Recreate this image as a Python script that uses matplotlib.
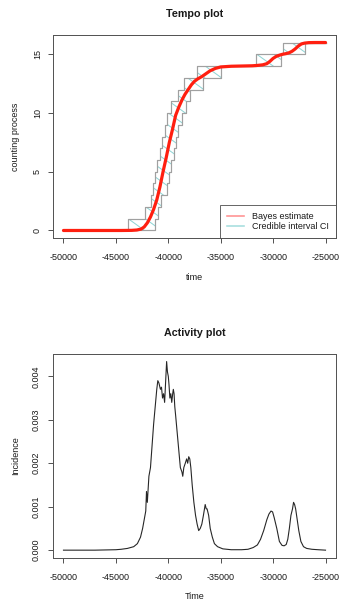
import numpy as np
import matplotlib
matplotlib.use("Agg")
import matplotlib.pyplot as plt
from matplotlib.lines import Line2D
from matplotlib.patches import Polygon
from matplotlib.collections import LineCollection

DPI = 78.0
def pt(px):
    return px * 72.0 / DPI

plt.rcParams['font.family'] = ['Liberation Sans', 'DejaVu Sans']

# ---------------- data ----------------
# Tempo plot: credible interval jump times (count k -> k+1)
ci_upper_jumps = [-43800, -42200, -41650, -41450, -41250, -41050, -40800, -40570,
                  -40350, -40150, -39700, -39100, -38500, -37250, -31600, -29100]
ci_lower_jumps = [-41300, -40950, -40650, -40100, -39950, -39700, -39500, -39300,
                  -39100, -38650, -38350, -37900, -36700, -34950, -29200, -27000]

bayes_t = [-50000, -44500, -43500, -43000, -42600, -42300, -42000, -41700, -41400,
           -41100, -40800, -40500, -40200, -39900, -39600, -39300, -39000, -38700,
           -38400, -38100, -37800, -37500, -37200, -36800, -36400, -36000, -35500,
           -35000, -34000, -33000, -32000, -31500, -31000, -30600, -30300, -30000,
           -29700, -29400, -29100, -28800, -28500, -28200, -27900, -27600, -27300,
           -27000, -26600, -26000, -25000]
bayes_y = [0, 0, 0.01, 0.04, 0.12, 0.3, 0.65, 1.15, 1.8,
           2.6, 3.7, 5.0, 6.2, 7.5, 8.6, 9.8, 10.5, 11.1,
           11.6, 12.0, 12.4, 12.7, 12.9, 13.1, 13.35, 13.6, 13.8,
           13.92, 13.98, 14.0, 14.02, 14.05, 14.1, 14.2, 14.4, 14.65,
           14.82, 14.92, 15.0, 15.05, 15.12, 15.25, 15.45, 15.7, 15.88,
           15.95, 15.99, 16.0, 16.0]

legend_labels = ["Bayes estimate", "Credible interval CI"]

# Activity plot
act_t = [-50000, -47000, -45000, -44500, -43900, -43300, -42950, -42650, -42450, -42300,
         -42150, -42080, -42000, -41850, -41700, -41550, -41400, -41250, -41100, -41000,
         -40900, -40750, -40650, -40550, -40450, -40350, -40250, -40160, -40080, -40000,
         -39930, -39850, -39760, -39670, -39580, -39520, -39450, -39380, -39300, -39150,
         -39000, -38850, -38700, -38620, -38520, -38380, -38250, -38150, -38050, -37950,
         -37850, -37720, -37560, -37400, -37250, -37100, -36950, -36800, -36650, -36480,
         -36380, -36300, -36150, -36000, -35800, -35600, -35300, -34800, -34000, -33000,
         -32400, -31900, -31500, -31200, -30900, -30600, -30400, -30200, -30050, -29900,
         -29650, -29400, -29150, -28950, -28750, -28600, -28450, -28300, -28150, -28050,
         -27950, -27850, -27700, -27550, -27350, -27100, -26800, -26300, -25700, -25000]
act_v = [0.0, 0.0, 0.00001, 0.00002, 0.00004, 0.00008, 0.00015, 0.0003, 0.0005, 0.0007,
         0.0009, 0.00135, 0.0011, 0.0017, 0.0019, 0.0024, 0.0029, 0.0033, 0.0037, 0.0039,
         0.00385, 0.0037, 0.00375, 0.0035, 0.0036, 0.0034, 0.0039, 0.00434, 0.0041, 0.0040,
         0.0038, 0.0035, 0.0036, 0.0034, 0.0036, 0.0037, 0.0036, 0.0033, 0.0031, 0.0027,
         0.0023, 0.0019, 0.0018, 0.0017, 0.0019, 0.0020, 0.0021, 0.0020, 0.00215, 0.0021,
         0.0019, 0.0015, 0.0011, 0.0008, 0.0006, 0.00045, 0.0005, 0.0006, 0.0008, 0.00105,
         0.00095, 0.00095, 0.0008, 0.0005, 0.0003, 0.00015, 0.00008, 0.00003, 0.00001, 0.00001,
         0.00002, 0.00006, 0.00012, 0.00025, 0.00045, 0.0007, 0.00083, 0.0009, 0.00088, 0.00075,
         0.0005, 0.0002, 0.00011, 0.0001, 0.00013, 0.00025, 0.0005, 0.0008, 0.00095, 0.0011,
         0.00105, 0.00095, 0.0007, 0.00045, 0.0002, 0.00008, 0.00004, 0.00002, 0.00001, 0.0]

x_ticks = [-50000, -45000, -40000, -35000, -30000, -25000]
tempo_yticks = [0, 5, 10, 15]
act_yticks = [0.000, 0.001, 0.002, 0.003, 0.004]

# ---------------- figure ----------------
W, H = 339, 602
fig = plt.figure(figsize=(W / DPI, H / DPI), dpi=DPI)

def axes_px(l, t, r, b):
    return fig.add_axes([l / W, 1 - b / H, (r - l) / W, (b - t) / H])

AX1 = (53, 35, 336, 238)
ax1 = axes_px(*AX1)
ax2 = axes_px(53, 354, 336, 557.7)

SPINE = '#555555'
TXT = '#1a1a1a'
FS = pt(9)

def style(ax, ypad):
    for s in ax.spines.values():
        s.set_color(SPINE)
        s.set_linewidth(pt(1.0))
    ax.tick_params(axis='both', direction='out', length=pt(5), width=pt(1.0),
                   color=SPINE, labelsize=FS, labelcolor=TXT)
    ax.tick_params(axis='x', pad=pt(10))
    ax.tick_params(axis='y', pad=pt(ypad), labelrotation=90)
    for lab in ax.get_yticklabels():
        lab.set_va('center')

# ---- Tempo plot ----
ax1.set_xlim(-51000, -24000)
ax1.set_ylim(-0.64, 16.64)

grid = np.array(sorted(set([-50000, -25000] + ci_upper_jumps + ci_lower_jumps)), dtype=float)
up = np.searchsorted(np.array(ci_upper_jumps), grid, side='right')
lo = np.searchsorted(np.array(ci_lower_jumps), grid, side='right')

# band polygon between the two step functions (used as clip region for hatching)
sx = np.repeat(grid, 2)[1:]
uy = np.repeat(up, 2)[:-1]
ly = np.repeat(lo, 2)[:-1]
band = np.column_stack([np.concatenate([sx, sx[::-1]]), np.concatenate([uy, ly[::-1]])])
band_patch = Polygon(band, closed=True, facecolor='none', edgecolor='none')
ax1.add_patch(band_patch)

# diagonal hatch pattern (pixel spacing / slope), clipped to the band
axw = AX1[2] - AX1[0]
axh = AX1[3] - AX1[1]
slope = 0.72      # drop per pixel to the right
step_px = 17.0    # horizontal spacing of hatch lines
run = axh / slope
starts = np.arange(-run, axw + step_px, step_px)
segs = [[(c / axw, 1.0), ((c + run) / axw, 0.0)] for c in starts]
hatch = LineCollection(segs, colors='#8ed4d4', linewidths=pt(1.0),
                       transform=ax1.transAxes, zorder=1.5)
ax1.add_collection(hatch)
hatch.set_clip_path(band_patch)

ax1.step(grid, up, where='post', color='#a0a0a0', lw=pt(1.2), zorder=2)
ax1.step(grid, lo, where='post', color='#a0a0a0', lw=pt(1.2), zorder=2)
ax1.plot(bayes_t, bayes_y, color='#ff1f10', lw=pt(3.2), solid_capstyle='round', zorder=3)

ax1.set_xlim(-51000, -24000)
ax1.set_ylim(-0.64, 16.64)
ax1.set_xticks(x_ticks)
ax1.set_xticklabels([str(v) for v in x_ticks])
ax1.set_yticks(tempo_yticks)
ax1.set_yticklabels([str(v) for v in tempo_yticks])
style(ax1, 6)

handles = [Line2D([], [], color='#ff9090', lw=pt(1.6)),
           Line2D([], [], color='#a6dede', lw=pt(1.6))]
leg = ax1.legend(handles, legend_labels, loc='lower right', borderaxespad=0,
                 fancybox=False, frameon=True, edgecolor='#444444', fontsize=FS,
                 handlelength=17 / 9, handletextpad=8.3 / 9, borderpad=0.75,
                 labelspacing=0.12)
leg.get_frame().set_linewidth(pt(1.0))
leg.set_zorder(5)
for t in leg.get_texts():
    t.set_color(TXT)

ax1.set_xlabel('time', fontsize=FS, color=TXT)
ax1.set_ylabel('counting process', fontsize=FS, color=TXT)
ax1.xaxis.set_label_coords(0.5, (238 - 277) / 203)
ax1.xaxis.label.set_va('center')
ax1.yaxis.set_label_coords((16 - 53) / 283, 0.5)
ax1.yaxis.label.set_va('center')
fig.text(194.5 / W, 1 - 14 / H, 'Tempo plot', ha='center', va='center',
         fontsize=pt(10.7), fontweight='bold', color=TXT)

# ---- Activity plot ----
ax2.plot(act_t, act_v, color='#262626', lw=pt(1.1))
vmax = max(act_v)
ax2.set_xlim(-51000, -24000)
ax2.set_ylim(-0.04 * vmax, 1.04 * vmax)
ax2.set_xticks(x_ticks)
ax2.set_xticklabels([str(v) for v in x_ticks])
ax2.set_yticks(act_yticks)
ax2.set_yticklabels(['%.3f' % v for v in act_yticks])
style(ax2, 7.5)

ax2.set_xlabel('Time', fontsize=FS, color=TXT)
ax2.set_ylabel('Incidence', fontsize=FS, color=TXT)
ax2.xaxis.set_label_coords(0.5, (557.7 - 596.7) / 203.7)
ax2.xaxis.label.set_va('center')
ax2.yaxis.set_label_coords((16 - 53) / 283, 0.5)
ax2.yaxis.label.set_va('center')
fig.text(194.5 / W, 1 - 333.3 / H, 'Activity plot', ha='center', va='center',
         fontsize=pt(10.7), fontweight='bold', color=TXT)

fig.savefig('out.png', dpi=DPI, facecolor='white')
